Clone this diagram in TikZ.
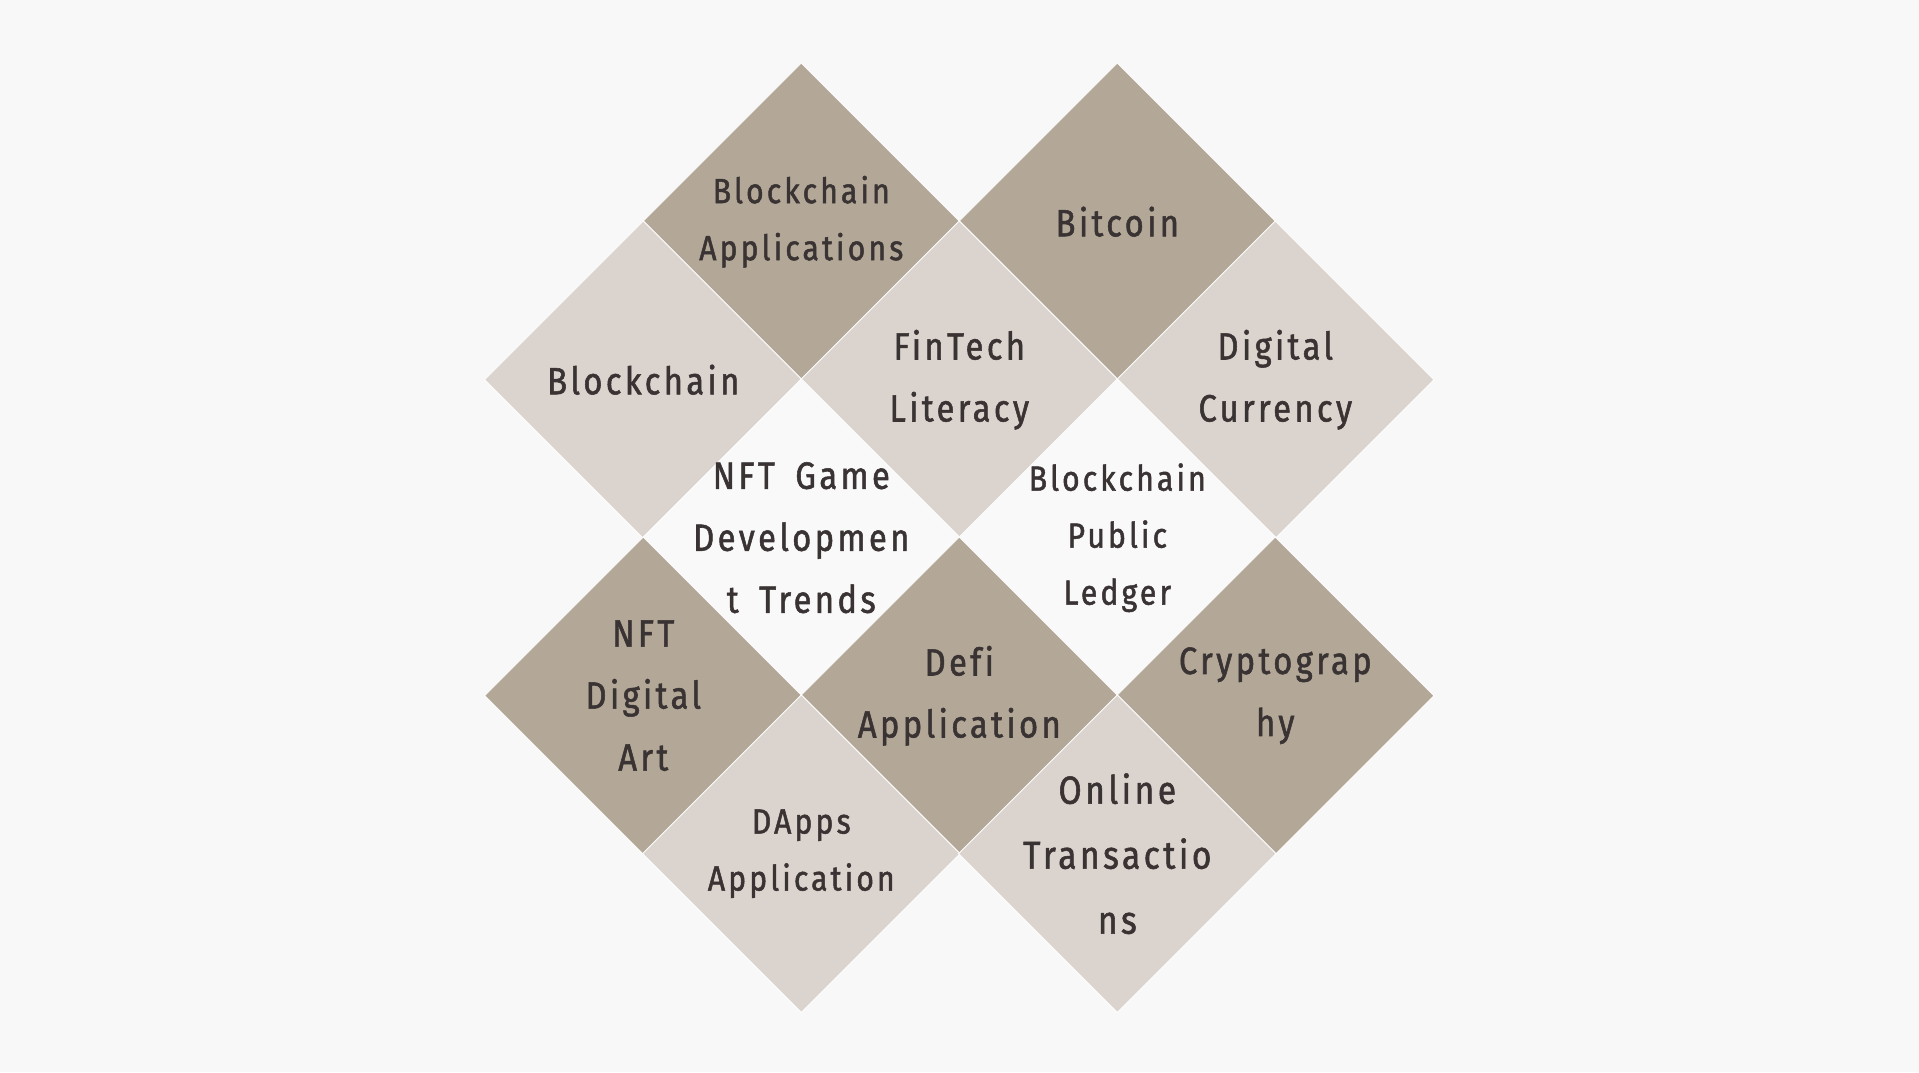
\documentclass[tikz,border=0pt]{standalone}
\usepackage{fontspec}
\newfontfamily\tilefont[LetterSpace=9,FakeStretch=0.86,FakeBold=1.4,WordSpace=1.7,Ligatures={NoCommon}]{Fira Sans}
\usetikzlibrary{shapes.geometric}
\definecolor{bg}{HTML}{F8F8F8}
\definecolor{dark}{HTML}{B3A897}
\definecolor{light}{HTML}{DBD3CD}
\definecolor{blank}{HTML}{F9F9F9}
\definecolor{ink}{HTML}{3A3333}
\tikzset{
  tile/.style={diamond, aspect=1, minimum width=318pt, minimum height=318pt, inner sep=0pt, draw=white!55!bg, line width=1pt},
  txt/.style={align=center, text=ink, inner sep=0pt, font=\tilefont\fontsize{38}{62}\selectfont},
  txtsmall/.style={txt, font=\tilefont\fontsize{35}{57}\selectfont},
  txtbig/.style={txt, font=\tilefont\fontsize{39}{65}\selectfont},
}
\begin{document}
\begin{tikzpicture}[x=1pt,y=-1pt]
\fill[bg] (0,0) rectangle (1919,1072);
\useasboundingbox (0,0) rectangle (1919,1072);
% tiles
\node[tile, fill=dark]  (bapp)  at (801.3,221.7) {};
\node[tile, fill=dark]  (btc)   at (1117.3,221.7) {};
\node[tile, fill=light] (bc)    at (643.3,379.7) {};
\node[tile, fill=light] (fin)   at (959.3,379.7) {};
\node[tile, fill=light] (dig)   at (1275.3,379.7) {};
\node[tile, fill=blank] (nftg)  at (801.3,537.7) {};
\node[tile, fill=blank] (ledg)  at (1117.3,537.7) {};
\node[tile, fill=dark]  (art)   at (643.3,695.7) {};
\node[tile, fill=dark]  (defi)  at (959.3,695.7) {};
\node[tile, fill=dark]  (cry)   at (1275.3,695.7) {};
\node[tile, fill=light] (dapp)  at (801.3,853.7) {};
\node[tile, fill=light] (onl)   at (1117.3,853.7) {};
% labels
\node[txtsmall] (tbapp) at (bapp) {Blockchain\\Applications};
\node[txt] (tbtc) at (btc) {Bitcoin};
\node[txt] (tbc) at (bc) {Blockchain};
\node[txt] (tfin) at (fin) {FinTech\\Literacy};
\node[txt] (tdig) at (dig) {Digital\\Currency};
\node[txt] (tnftg) at (nftg) {NFT Game\\Developmen\\t Trends};
\node[txtsmall] (tledg) at (ledg) {Blockchain\\Public\\Ledger};
\node[txt] (tart) at (art) {NFT\\Digital\\Art};
\node[txt] (tdefi) at (defi) {Defi\\Application};
\node[txt] (tcry) at (cry) {Cryptograp\\hy};
\node[txtsmall] (tdapp) at (dapp) {DApps\\Application};
\node[txtbig] (tonl) at (onl) {Online\\Transactio\\ns};
\end{tikzpicture}
\end{document}
